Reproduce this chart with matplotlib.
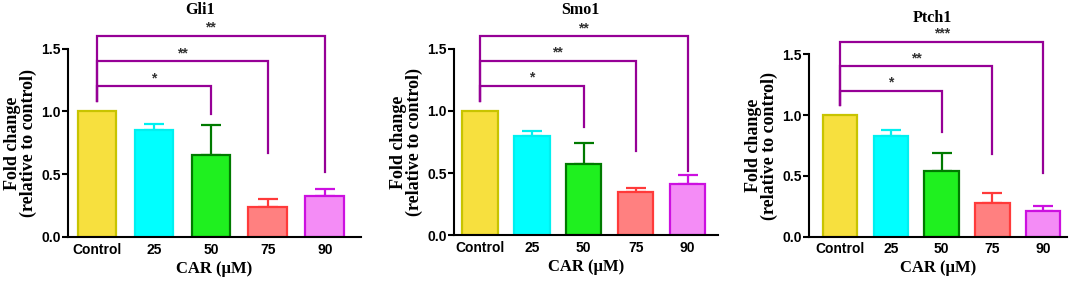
import numpy as np
from matplotlib import pyplot as plt

groups = ["Control", "25", "50", "75", "90"]

gli1_mean = [1.0, 0.85, 0.65, 0.24, 0.33]
gli1_err = [0.0, 0.05, 0.24, 0.06, 0.055]
smo1_mean = [1.0, 0.80, 0.57, 0.35, 0.41]
smo1_err = [0.0, 0.04, 0.17, 0.03, 0.075]
ptch1_mean = [1.0, 0.83, 0.54, 0.28, 0.21]
ptch1_err = [0.0, 0.05, 0.15, 0.08, 0.04]

# significance brackets: control -> 50, 75, 90
bracket_targets = [2, 3, 4]
bracket_levels = [1.2, 1.4, 1.6]
gli1_ends = [0.98, 0.67, 0.52]
smo1_ends = [0.87, 0.68, 0.52]
ptch1_ends = [0.86, 0.68, 0.52]
gli1_stars = ["*", "**", "**"]
smo1_stars = ["*", "**", "**"]
ptch1_stars = ["*", "**", "***"]

face_colors = ["#f7e03e", "#00ffff", "#1ff01f", "#ff8080", "#f48cf6"]
edge_colors = ["#c8c400", "#00f0f0", "#007a00", "#ff3a3a", "#cc10e0"]
bracket_color = "#960096"

serif = ["Liberation Serif", "DejaVu Serif"]
sans = ["Liberation Sans", "DejaVu Sans"]

fig = plt.figure(figsize=(10.72, 2.81), dpi=100)

panels = [
    ("Gli1", gli1_mean, gli1_err, gli1_ends, gli1_stars,
     [0.0634, 0.1566, 0.273, 0.670], (-0.51, 4.63), (200, 10)),
    ("Smo1", smo1_mean, smo1_err, smo1_ends, smo1_stars,
     [0.4235, 0.1626, 0.246, 0.664], (-0.50, 4.58), (580, 10)),
    ("Ptch1", ptch1_mean, ptch1_err, ptch1_ends, ptch1_stars,
     [0.7547, 0.1577, 0.2407, 0.649], (-0.61, 4.47), (932, 18)),
]

for title, mean, err, ends, stars, rect, xlim, tpos in panels:
    ax = fig.add_axes(rect)
    x = np.arange(len(groups))
    ax.bar(x, mean, width=0.68, color=face_colors, edgecolor=edge_colors,
           linewidth=1.6, zorder=2)
    for i in range(len(groups)):
        if err[i] > 0:
            ax.errorbar(x[i], mean[i], yerr=[[0], [err[i]]], fmt="none",
                        ecolor=edge_colors[i], elinewidth=1.6, capsize=7.5,
                        capthick=1.6, zorder=1)

    for t, lvl, end, s in zip(bracket_targets, bracket_levels, ends, stars):
        ax.plot([0, 0, t, t], [1.08, lvl, lvl, end], color=bracket_color,
                lw=1.6, clip_on=False, zorder=3, solid_joinstyle="miter")
        ax.text(t / 2, lvl + 0.01, s, ha="center", va="bottom", fontsize=10,
                color="#333333", family=sans, fontweight="bold")

    ax.set_xlim(*xlim)
    ax.set_ylim(0, 1.5)
    ax.set_yticks([0, 0.5, 1.0, 1.5])
    ax.set_yticklabels(["0.0", "0.5", "1.0", "1.5"])
    ax.set_xticks(x)
    ax.set_xticklabels(groups)
    for lab in ax.get_xticklabels() + ax.get_yticklabels():
        lab.set_family(sans)
        lab.set_fontweight("bold")
        lab.set_fontsize(10)
    ax.tick_params(axis="y", direction="out", length=4, width=1.5, pad=1)
    ax.tick_params(axis="x", length=0, pad=4)
    for side in ["top", "right"]:
        ax.spines[side].set_visible(False)
    for side in ["left", "bottom"]:
        ax.spines[side].set_linewidth(1.5)

    ax.set_ylabel("Fold change\n(relative to control)", family=serif,
                  fontweight="bold", fontsize=13, linespacing=0.95, labelpad=3)
    ax.set_xlabel("CAR (\u03bcM)", family=serif, fontweight="bold",
                  fontsize=12, labelpad=3)
    fig.text(tpos[0] / 1072, 1 - tpos[1] / 281, title, ha="center",
             va="center", family=serif, fontweight="bold", fontsize=11.5)

fig.savefig("out.png", dpi=100)
